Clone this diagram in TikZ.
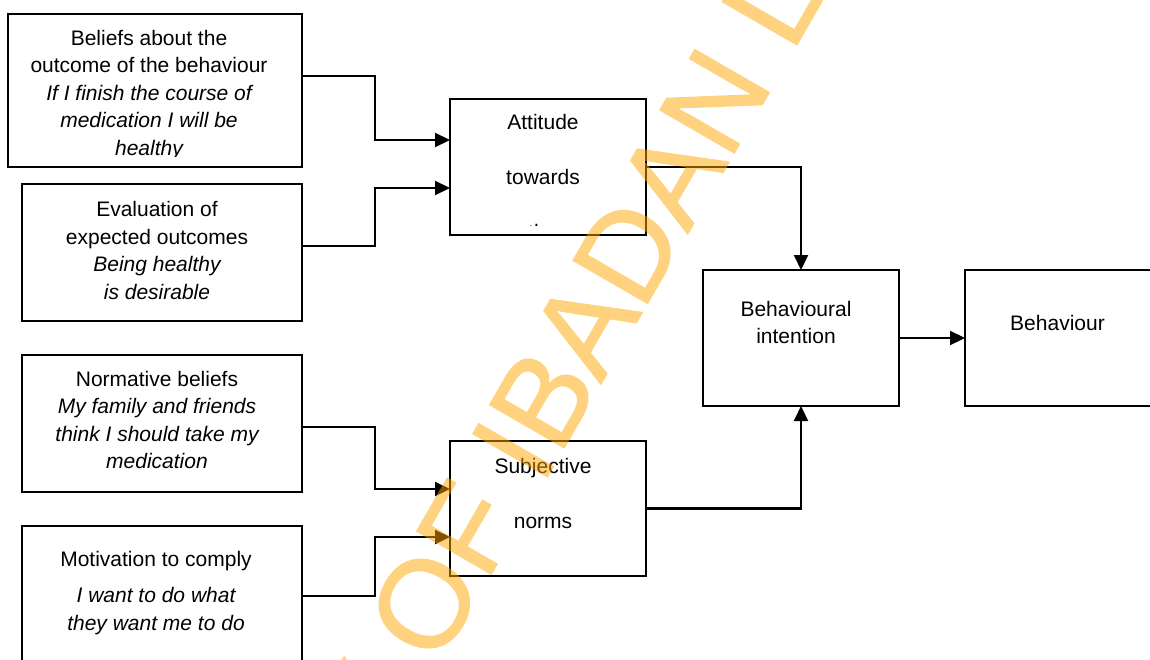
\documentclass[tikz,border=0pt]{standalone}
\usepackage{fontspec}
\setmainfont{Liberation Sans}
\newfontfamily\wmfont[FakeBold=1]{Liberation Sans}
\usetikzlibrary{arrows.meta}
\definecolor{wmorange}{HTML}{FFA500}
\begin{document}
\begin{tikzpicture}[x=1pt,y=-1pt,
  box/.style={draw,line width=1.6pt,inner sep=0pt,outer sep=0pt},
  txt/.style={font=\fontsize{21}{27.5}\selectfont,align=center,inner sep=0pt,anchor=north},
  conn/.style={line width=2.2pt,-{Triangle[length=15pt,width=14pt]}},
  wmark/.style={font=\wmfont\fontsize{125}{125}\selectfont,text=wmorange,inner sep=0pt,anchor=base west,rotate=60}]
\useasboundingbox (0,0) rectangle (1150,659);
\clip (0,0) rectangle (1150,659);

% boxes
\node[box,minimum width=294pt,minimum height=153pt] (bel) at (155,90.5) {};
\node[box,minimum width=280pt,minimum height=137pt] (eva) at (162,252.5) {};
\node[box,minimum width=280pt,minimum height=137pt] (nor) at (162,423.5) {};
\node[box,minimum width=280pt,minimum height=137pt] (mot) at (162,594.5) {};
\node[box,minimum width=196pt,minimum height=136pt] (att) at (548,167) {};
\node[box,minimum width=196pt,minimum height=135pt] (sub) at (548,508.5) {};
\node[box,minimum width=196pt,minimum height=136pt] (int) at (801,338) {};
\node[box,minimum width=196pt,minimum height=136pt] (beh) at (1063,338) {};

% box texts (overflowing lines are cut by the text frame)
\begin{scope}
  \clip (8,14) rectangle (302,156.5);
  \node[txt] (tbel) at (149,25.75) {\strut Beliefs about the\\outcome of the behaviour\\
    \itshape If I finish the course of\\\itshape medication I will be\\\itshape healthy};
\end{scope}
\node[txt] (teva) at (157,197.5) {\fontsize{21}{27}\selectfont\strut Evaluation of\\expected outcomes\\
  \itshape Being healthy\\\itshape is desirable};
\node[txt] (tnor) at (157,366.75) {\strut Normative beliefs\\\itshape My family and friends\\
  \itshape think I should take my\\\itshape medication};
\node[txt] (tmot) at (156,547.5) {\strut Motivation to comply\\[8.5pt]\itshape I want to do what\\
  \itshape they want me to do};
\begin{scope}
  \clip (450,99) rectangle (646,225.5);
  \node[txt] (tatt) at (543,110) {\strut Attitude\\[27.5pt]towards\\[27.5pt]the\\[27.5pt]behaviour};
\end{scope}
\node[txt] (tsub) at (543,454) {\strut Subjective\\[27.5pt]norms};
\node[txt] (tint) at (796,296.75) {\strut Behavioural\\intention};
\node[txt] (tbeh) at (1057.5,310.75) {\strut Behaviour};

% connectors
\draw[conn] (bel.east |- 0,76) -- ++(73,0) |- (att.west |- 0,140);
\draw[conn] (eva.east |- 0,246) -- ++(73,0) |- (att.west |- 0,188);
\draw[conn] (nor.east |- 0,427) -- ++(73,0) |- (sub.west |- 0,489);
\draw[conn] (mot.east |- 0,596) -- ++(73,0) |- (sub.west |- 0,537);
\draw[conn] (att.east) -| (int.north);
\draw[conn] (sub.east) -| (int.south);
\draw[conn] (int.east) -- (beh.west);

% library watermark, translucent as a whole
\begin{scope}[transparency group,opacity=0.5]
  \node[wmark] (wm) at (45,1347) {UNIVERSITY OF IBADAN LIBRARY};
\end{scope}
\end{tikzpicture}
\end{document}
